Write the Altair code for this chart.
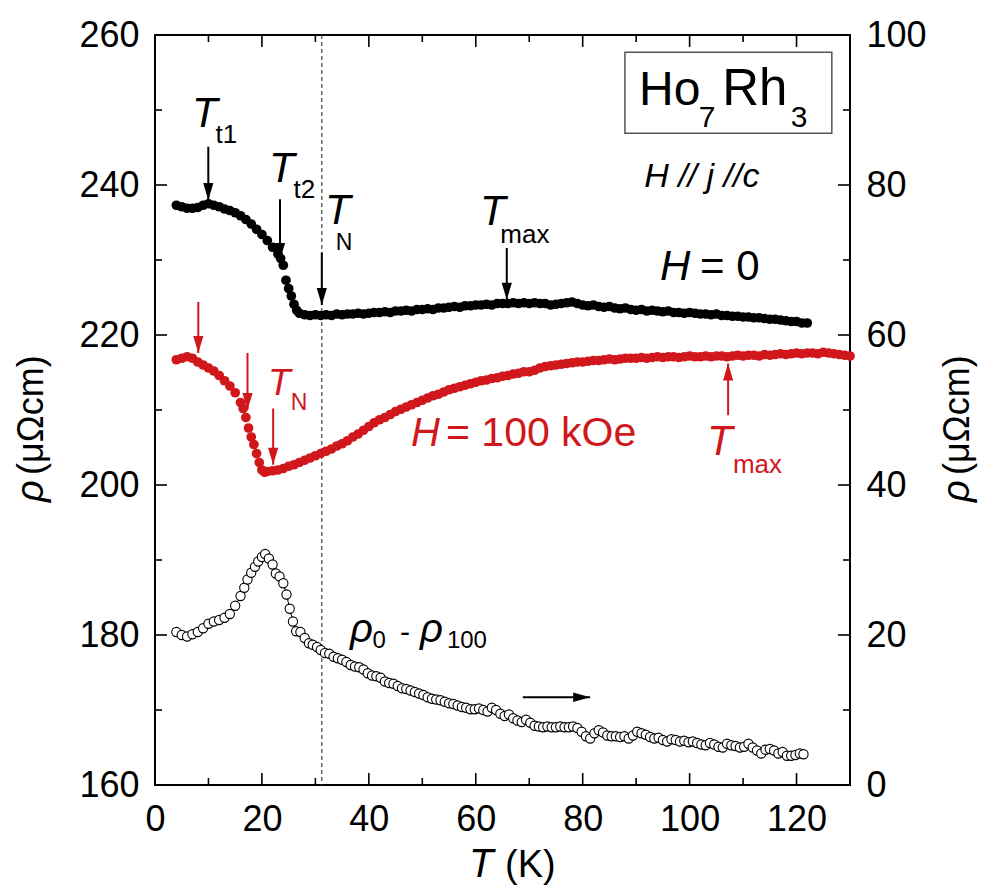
import altair as alt
import pandas as pd

# ---------------- data ----------------
T_H0 = [4, 5, 6, 7, 8, 9, 10, 11, 12, 13, 14, 15, 16, 17, 18, 19, 20, 21, 22, 23, 23.5, 24, 24.5, 25, 25.5, 26, 26.5,
        27, 28, 29, 30, 31, 32, 33, 34, 35, 36, 37, 38, 39, 40, 41, 42, 43, 44, 45, 46, 47, 48, 49, 50, 51, 52, 53,
        54, 55, 56, 57, 58, 59, 60, 61, 62, 63, 64, 65, 66, 67, 68, 69, 70, 71, 72, 73, 74, 75, 76, 77, 78, 79, 80,
        81, 82, 83, 84, 85, 86, 87, 88, 89, 90, 91, 92, 93, 94, 95, 96, 97, 98, 99, 100, 101, 102, 103, 104, 105,
        106, 107, 108, 109, 110, 111, 112, 113, 114, 115, 116, 117, 118, 119, 120, 121, 122]
rho_H0 = [237.3, 237.1, 236.9, 236.9, 237.0, 237.3, 237.5, 237.3, 237.1, 236.8, 236.6, 236.3, 235.9, 235.4, 234.8,
          234.1, 233.4, 232.6, 231.7, 230.8, 230.2, 229.3, 227.3, 226.2, 225.2, 224.1, 223.3,
          222.9, 222.7, 222.6, 222.7, 222.6, 222.7, 222.6, 222.8, 222.7, 222.8, 222.8, 222.9, 222.8, 222.9, 223.0,
          223.0, 223.1, 223.0, 223.2, 223.2, 223.3, 223.2, 223.4, 223.4, 223.5, 223.4, 223.6, 223.6, 223.7, 223.8,
          223.7, 223.9, 223.9, 224.0, 224.0, 224.1, 224.0, 224.2, 224.2, 224.2, 224.3, 224.2, 224.3, 224.2, 224.3,
          224.2, 224.2, 224.0, 224.1, 224.2, 224.3, 224.4, 224.2, 224.0, 223.9, 224.0, 223.8, 223.7, 223.8, 223.6,
          223.5, 223.6, 223.4, 223.3, 223.4, 223.2, 223.3, 223.2, 223.1, 223.2, 223.0, 223.0, 222.9, 223.0, 222.9,
          222.8, 222.8, 222.7, 222.8, 222.6, 222.6, 222.5, 222.5, 222.4, 222.4, 222.3, 222.3, 222.2, 222.1, 222.1,
          222.0, 221.9, 221.8, 221.8, 221.6, 221.6]

T_H100 = [4, 5, 6, 7, 8, 9, 10, 11, 12, 13, 14, 15, 16, 16.5, 17, 17.5, 18, 18.5, 19, 19.5, 20, 20.5, 21, 22, 23,
          24, 25, 26, 27, 28, 29, 30, 31, 32, 33, 34, 35, 36, 37, 38, 39, 40, 41, 42, 43, 44, 45, 46, 47, 48, 49,
          50, 51, 52, 53, 54, 55, 56, 57, 58, 59, 60, 61, 62, 63, 64, 65, 66, 67, 68, 69, 70, 71, 72, 73, 74, 75,
          76, 77, 78, 79, 80, 81, 82, 83, 84, 85, 86, 87, 88, 89, 90, 91, 92, 93, 94, 95, 96, 97, 98, 99, 100,
          101, 102, 103, 104, 105, 106, 107, 108, 109, 110, 111, 112, 113, 114, 115, 116, 117, 118, 119, 120, 121,
          122, 123, 124, 125, 126, 127, 128, 129, 130]
rho_H100 = [216.7, 216.9, 217.1, 216.9, 216.4, 216.0, 215.6, 215.2, 214.6, 213.9, 213.2, 212.3, 211.0, 210.2,
            209.0, 207.6, 206.4, 205.4, 204.2, 203.0, 202.0, 201.7, 201.8, 201.9, 202.0, 202.2, 202.5, 202.7,
            203.0, 203.3, 203.6, 203.9, 204.2, 204.5, 204.8, 205.2, 205.5, 205.9, 206.4, 206.8, 207.3, 207.8,
            208.3, 208.7, 209.0, 209.4, 209.8, 210.1, 210.4, 210.7, 211.0, 211.3, 211.6, 211.9, 212.1, 212.4,
            212.7, 212.9, 213.1, 213.3, 213.5, 213.7, 213.9, 214.0, 214.2, 214.3, 214.5, 214.6, 214.8, 214.9,
            215.1, 215.1, 215.3, 215.6, 215.8, 215.9, 216.0, 216.1, 216.2, 216.3, 216.4, 216.4, 216.5, 216.6,
            216.6, 216.7, 216.8, 216.7, 216.8, 216.9, 216.9, 216.9, 217.0, 216.9, 217.0, 217.1, 217.0, 217.1,
            217.1, 217.0, 217.1, 217.2, 217.1, 217.1, 217.2, 217.1, 217.2, 217.2, 217.1, 217.2, 217.3, 217.2,
            217.3, 217.3, 217.2, 217.4, 217.3, 217.4, 217.5, 217.4, 217.5, 217.6, 217.5, 217.6, 217.6, 217.5,
            217.7, 217.6, 217.5, 217.4, 217.3, 217.2]

T_diff = [4, 5, 6, 7, 8, 9, 10, 11, 12, 13, 14, 15, 16, 16.7, 17.3, 18, 18.7, 19.3, 20, 20.6, 21.3, 22, 22.6, 23.3,
          24, 24.6, 25.2, 25.8, 26.4, 27.2, 28, 28.8, 29.5, 30.3, 31, 31.8, 32.6, 33.4, 34.2, 35, 35.8, 36.6,
          37.4, 38.2, 39, 39.8, 40.6, 41.4, 42.2, 43, 43.8, 44.6, 45.4, 46.2, 47, 47.8, 48.6, 49.4, 50.2, 51, 51.8,
          52.6, 53.4, 54.2, 55, 55.8, 56.6, 57.4, 58.2, 59, 59.8, 60.6, 61.4, 62.2, 63, 63.8, 64.6, 65.4, 66.2, 67,
          67.8, 68.6, 69.4, 70.2, 71, 71.8, 72.6, 73.4, 74.2, 75, 75.8, 76.6, 77.4, 78.2, 79, 79.8, 80.6, 81.4,
          82.2, 83, 83.8, 84.6, 85.4, 86.2, 87, 87.8, 88.6, 89.4, 90.2, 91, 91.8, 92.6, 93.4, 94.2, 95, 95.8, 96.6,
          97.4, 98.2, 99, 99.8, 100.6, 101.4, 102.2, 103, 103.8, 104.6, 105.4, 106.2, 107, 107.8, 108.6, 109.4,
          110.2, 111, 111.8, 112.6, 113.4, 114.2, 115, 115.8, 116.6, 117.4, 118.2, 119, 119.8, 120.6, 121.3]
rho_diff = [20.4, 20.0, 19.8, 20.1, 20.4, 20.9, 21.5, 21.8, 22.0, 22.3, 22.8, 23.9, 25.2, 26.3, 27.4, 28.3, 29.1,
            29.8, 30.4, 30.8, 30.2, 29.4, 28.2, 27.8, 26.9, 25.4, 23.5, 21.8, 20.5, 20.4, 19.6, 18.9, 18.7, 18.4,
            18.0, 17.6, 17.5, 17.1, 16.9, 16.7, 16.4, 16.0, 15.8, 15.7, 15.4, 14.9, 14.6, 14.5, 14.3, 13.8, 13.6,
            13.5, 13.2, 12.9, 12.8, 12.6, 12.4, 12.2, 12.0, 11.7, 11.5, 11.4, 11.3, 11.1, 10.9, 10.8, 10.6, 10.4,
            10.3, 10.1, 10.1, 10.2, 10.0, 9.8, 10.3, 10.0, 9.5, 9.2, 9.4, 8.9, 8.6, 8.4, 8.7, 8.3, 7.9, 7.8, 7.7,
            7.8, 7.7, 7.7, 7.8, 7.7, 7.7, 7.8, 7.6, 7.1, 6.5, 6.2, 6.9, 7.3, 7.0, 6.6, 6.5, 6.5, 6.4, 6.5, 6.2,
            6.6, 7.1, 6.9, 6.7, 6.4, 6.2, 6.3, 6.0, 5.8, 6.1, 6.0, 5.8, 5.9, 5.7, 5.8, 5.6, 5.4, 5.3, 5.6, 5.4,
            5.1, 5.0, 5.5, 5.3, 5.2, 5.0, 5.1, 5.5, 5.0, 4.6, 4.2, 4.7, 4.8, 4.6, 4.2, 4.4, 3.9, 3.9, 4.0, 4.2,
            4.1]

x_major = [0, 20, 40, 60, 80, 100, 120]
x_minor = [10, 30, 50, 70, 90, 110]
left_major = [160, 180, 200, 220, 240, 260]
left_minor = [170, 190, 210, 230, 250]
right_major = [0, 20, 40, 60, 80, 100]
right_minor = [10, 30, 50, 70, 90]
T_N_line = [31.2]

# annotation arrows (T, start, tip) in left-axis units
down_T = [9.97, 23.38, 31.2, 65.8, 8.1, 17.3, 22.1]
down_from = [245.1, 238.1, 231.0, 231.6, 224.4, 217.6, 210.2]
down_to = [238.0, 230.0, 224.0, 224.7, 217.6, 210.0, 202.7]
down_col = ["#000000"] * 4 + ["#d0181c"] * 3
up_T = [107.2]
up_from = [209.3]
up_to = [216.2]
right_from_T = [68.8]
right_to_T = [81.4]
right_v = [171.7]

# annotation texts: label, T, value, size, color, italic
txt_label = ["T", "t1", "T", "t2", "T", "N", "T", "max",
             "Ho", "7", "Rh", "3", "H // j //c", "H", "= 0",
             "T", "N", "H", "= 100 kOe", "T", "max",
             "ρ", "0", "-", "ρ", "100"]
txt_T = [6.92, 11.3, 21.32, 25.9, 31.8, 33.8, 60.79, 64.6,
         90.53, 101.7, 106.1, 118.9, 91.5, 94.46, 101.95,
         21.14, 25.4, 47.89, 54.43, 103.25, 108.1,
         36.48, 40.7, 45.83, 49.57, 54.6]
txt_v = [247.73, 245.6, 240.4, 238.27, 234.8, 231.4, 234.67, 232.27,
         250.67, 247.73, 250.67, 247.73, 239.73, 227.33, 227.33,
         212.0, 210.0, 205.2, 205.2, 204.0, 201.6,
         179.07, 178.27, 179.07, 179.07, 178.27]
txt_size = [42, 26, 42, 26, 42, 23, 42, 26,
            48, 30, 51, 30, 34, 42, 42,
            37, 23, 40, 41, 42, 26,
            40, 24, 30, 40, 24]
txt_color = ["#000000"] * 15 + ["#d0181c"] * 6 + ["#000000"] * 5
txt_italic = [True, False, True, False, True, False, True, False,
              False, False, False, False, True, True, False,
              True, False, True, False, True, False,
              True, False, False, True, False]
box_T = [87.9]
box_T2 = [126.6]
box_v = [257.7]
box_v2 = [246.9]

# ---------------- chart ----------------
RED = "#d0181c"
FONT = "Liberation Sans"
W, H = 695, 750

xs = alt.Scale(domain=[0, 130], nice=False, zero=False)
ysl = alt.Scale(domain=[160, 260], nice=False, zero=False)
ysr = alt.Scale(domain=[0, 100], nice=False, zero=False)

x_axis = alt.Axis(orient="bottom", values=x_major, ticks=False, tickSize=0, domain=False, grid=False,
                  labelFont=FONT, labelFontSize=36, labelColor="black", labelPadding=17,
                  labelFlush=False, labelOverlap=False, title=None)
yl_axis = alt.Axis(orient="left", values=left_major, ticks=False, tickSize=0, domain=False, grid=False,
                   labelFont=FONT, labelFontSize=36, labelColor="black", labelPadding=16,
                   labelFlush=False, labelOverlap=False, title=None)
yr_axis = alt.Axis(orient="right", values=right_major, ticks=False, tickSize=0, domain=False, grid=False,
                   labelFont=FONT, labelFontSize=36, labelColor="black", labelPadding=16,
                   labelFlush=False, labelOverlap=False, title=None)


def X(f):
    return alt.X(f, type="quantitative", scale=xs, axis=x_axis)


def YL(f):
    return alt.Y(f, type="quantitative", scale=ysl, axis=yl_axis)


def YR(f):
    return alt.Y(f, type="quantitative", scale=ysr, axis=yr_axis)


df_h0 = pd.DataFrame({"T": T_H0, "rho": rho_H0})
df_h100 = pd.DataFrame({"T": T_H100, "rho": rho_H100})
df_diff = pd.DataFrame({"T": T_diff, "rho": rho_diff})

layers_left = []
# inward ticks
for vals, ln in ((x_major, 12), (x_minor, 7)):
    d = pd.DataFrame({"t": vals})
    layers_left.append(alt.Chart(d).mark_rule(color="black", strokeWidth=1.6).encode(
        x=X("t"), y=alt.value(H), y2=alt.value(H - ln)))
    layers_left.append(alt.Chart(d).mark_rule(color="black", strokeWidth=1.6).encode(
        x=X("t"), y=alt.value(0), y2=alt.value(ln)))
for vals, ln in ((left_major, 12), (left_minor, 7)):
    d = pd.DataFrame({"v": vals})
    layers_left.append(alt.Chart(d).mark_rule(color="black", strokeWidth=1.6).encode(
        y=YL("v"), x=alt.value(0), x2=alt.value(ln)))

# dashed T_N line
layers_left.append(alt.Chart(pd.DataFrame({"t": T_N_line})).mark_rule(
    color="#444444", strokeWidth=1.2, strokeDash=[4, 3]).encode(x=X("t"), y=alt.value(0), y2=alt.value(H)))

# data
layers_left.append(alt.Chart(df_h0).mark_circle(size=95, color="black", opacity=1).encode(
    x=X("T"), y=YL("rho")))
layers_left.append(alt.Chart(df_h100).mark_circle(size=95, color=RED, opacity=1).encode(
    x=X("T"), y=YL("rho")))

# arrows
df_down = pd.DataFrame({"T": down_T, "a": down_from, "b": down_to, "c": down_col})
layers_left.append(alt.Chart(df_down).mark_rule(strokeWidth=2).encode(
    x=X("T"), y=YL("a"), y2=alt.Y2("b"), color=alt.Color("c:N", scale=None)))
layers_left.append(alt.Chart(df_down).mark_point(
    shape="M0,0L-0.6,-2L0.6,-2Z", filled=True, size=289, opacity=1).encode(
    x=X("T"), y=YL("b"), color=alt.Color("c:N", scale=None)))
df_up = pd.DataFrame({"T": up_T, "a": up_from, "b": up_to})
layers_left.append(alt.Chart(df_up).mark_rule(strokeWidth=2, color=RED).encode(
    x=X("T"), y=YL("a"), y2=alt.Y2("b")))
layers_left.append(alt.Chart(df_up).mark_point(
    shape="M0,0L-0.6,2L0.6,2Z", filled=True, size=289, opacity=1, color=RED).encode(
    x=X("T"), y=YL("b")))
df_right = pd.DataFrame({"a": right_from_T, "b": right_to_T, "v": right_v})
layers_left.append(alt.Chart(df_right).mark_rule(strokeWidth=2, color="black").encode(
    x=X("a"), x2=alt.X2("b"), y=YL("v")))
layers_left.append(alt.Chart(df_right).mark_point(
    shape="M0,0L-2,-0.55L-2,0.55Z", filled=True, size=289, opacity=1, color="black").encode(
    x=X("b"), y=YL("v")))

# box around the compound name
layers_left.append(alt.Chart(pd.DataFrame({"a": box_T, "b": box_T2, "c": box_v, "d": box_v2})).mark_rect(
    fill="white", stroke="#555555", strokeWidth=1.5).encode(
    x=X("a"), x2=alt.X2("b"), y=YL("c"), y2=alt.Y2("d")))

# texts
df_txt = pd.DataFrame({"label": txt_label, "T": txt_T, "v": txt_v, "s": txt_size,
                       "c": txt_color, "it": txt_italic})
for it in (True, False):
    d = df_txt[df_txt["it"] == it]
    layers_left.append(alt.Chart(d).mark_text(
        font=FONT, fontStyle="italic" if it else "normal", align="left", baseline="alphabetic").encode(
        x=X("T"), y=YL("v"), text="label:N", size=alt.Size("s:Q", scale=None),
        color=alt.Color("c:N", scale=None)))


# axis titles
def pix_text(s, x, y, size, italic=False, angle=0):
    kw = dict(font=FONT, fontSize=size, align="left", color="black")
    if italic:
        kw["fontStyle"] = "italic"
    if angle:
        kw["angle"] = angle
        kw["baseline"] = "middle"
    else:
        kw["baseline"] = "alphabetic"
    return alt.Chart(pd.DataFrame({"s": [s]})).mark_text(**kw).encode(
        x=alt.value(x), y=alt.value(y), text="s:N")


layers_left.append(pix_text("ρ", -123, 467, 38, italic=True, angle=270))
layers_left.append(pix_text("(μΩcm)", -123, 440, 36, angle=270))
layers_left.append(pix_text("ρ", 803, 467, 38, italic=True, angle=270))
layers_left.append(pix_text("(μΩcm)", 803, 440, 36, angle=270))
layers_left.append(pix_text("T", 314, 842, 40, italic=True))
layers_left.append(pix_text("(K)", 350, 842, 38))

left_group = alt.layer(*layers_left)

layers_right = []
for vals, ln in ((right_major, 12), (right_minor, 7)):
    d = pd.DataFrame({"v": vals})
    layers_right.append(alt.Chart(d).mark_rule(color="black", strokeWidth=1.6).encode(
        y=YR("v"), x=alt.value(W), x2=alt.value(W - ln)))
layers_right.append(alt.Chart(df_diff).mark_line(color="black", strokeWidth=1).encode(
    x=X("T"), y=YR("rho")))
layers_right.append(alt.Chart(df_diff).mark_point(
    shape="circle", size=85, filled=False, fill="white", fillOpacity=1, stroke="black",
    strokeWidth=1.1, opacity=1).encode(x=X("T"), y=YR("rho")))
right_group = alt.layer(*layers_right)

chart = alt.layer(left_group, right_group).resolve_scale(y="independent").properties(
    width=W, height=H,
    autosize=alt.AutoSizeParams(type="none"),
    padding={"left": 155, "top": 35, "right": 136, "bottom": 105},
    background="white",
).configure_view(stroke="black", strokeWidth=2)

chart.save("out.html", embed_options={"renderer": "svg", "actions": False})
